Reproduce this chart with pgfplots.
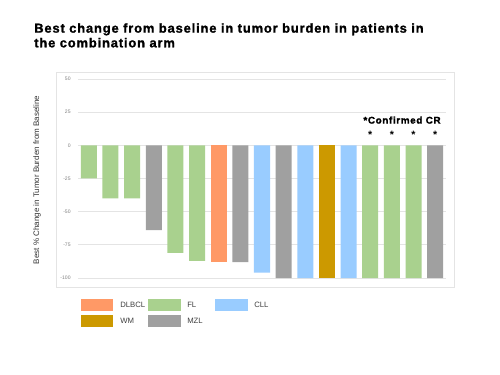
\documentclass[border=0pt]{standalone}
\usepackage{fontspec}
\setmainfont{Liberation Sans}
\newfontfamily\titlefont{Liberation Sans Bold}[FakeBold=1.3, LetterSpace=6.5]
\usepackage{pgfplots}
\pgfplotsset{compat=1.18}
\definecolor{cDLBCL}{HTML}{FF9966}
\definecolor{cFL}{HTML}{A9D18E}
\definecolor{cCLL}{HTML}{99CCFF}
\definecolor{cWM}{HTML}{CC9900}
\definecolor{cMZL}{HTML}{A0A0A0}
\definecolor{gridc}{HTML}{E4E4E4}
\begin{document}
\begin{tikzpicture}
\useasboundingbox[fill=white] (0,0) rectangle (375pt,281.25pt);
% title
\node[anchor=north west, inner sep=0pt, align=left, font=\fontsize{9.7}{11}\titlefont] at (25.5pt,264pt)
  {Best change from baseline in tumor burden in patients in\\the combination arm};
% frame
\draw[gridc, line width=0.6pt] (42pt,66pt) rectangle (340.5pt,227.25pt);
\begin{axis}[
  at={(58.5pt,72.75pt)}, anchor=south west,
  scale only axis, width=276pt, height=149.25pt,
  xmin=0.5, xmax=17.5, ymin=-100, ymax=50,
  ytick={-100,-75,-50,-25,0,25,50},
  xtick=\empty,
  ymajorgrids, grid style={gridc, line width=0.6pt},
  axis line style={draw=none},
  major tick length=0pt,
  /pgf/number format/assume math mode=true,
  yticklabel style={font=\fontsize{3.8}{4}\selectfont, text=gray, xshift=-2pt},
  ybar, bar width=0.74, bar shift=0pt,
  clip=false,
]
\addplot[fill=cFL, draw=none] coordinates {(1,-25) (2,-40) (3,-40) (5,-81) (6,-87) (14,-100) (15,-100) (16,-100)};
\addplot[fill=cMZL, draw=none] coordinates {(4,-64) (8,-88) (10,-100) (17,-100)};
\addplot[fill=cDLBCL, draw=none] coordinates {(7,-88)};
\addplot[fill=cCLL, draw=none] coordinates {(9,-96) (11,-100) (13,-100)};
\addplot[fill=cWM, draw=none] coordinates {(12,-100)};
\node[font=\fontsize{8}{8}\bfseries] at (axis cs:14,8) {*};
\node[font=\fontsize{8}{8}\bfseries] at (axis cs:15,8) {*};
\node[font=\fontsize{8}{8}\bfseries] at (axis cs:16,8) {*};
\node[font=\fontsize{8}{8}\bfseries] at (axis cs:17,8) {*};
\node[font=\fontsize{7.4}{7}\titlefont] at (axis cs:15.47,19) {*Confirmed CR};
\end{axis}
% y label
\node[rotate=90, font=\fontsize{6}{6}\selectfont, text=black!80] at (27.75pt,146.25pt)
  {Best \% Change in Tumor Burden from Baseline};
% legend
\fill[cDLBCL] (60.75pt,48pt) rectangle (84.75pt,57pt);
\fill[cFL] (111pt,48pt) rectangle (135.75pt,57pt);
\fill[cCLL] (161.25pt,48pt) rectangle (186pt,57pt);
\fill[cWM] (60.75pt,36pt) rectangle (84.75pt,45pt);
\fill[cMZL] (111pt,36pt) rectangle (135.75pt,45pt);
\begin{scope}[every node/.style={anchor=west, inner sep=0pt, font=\fontsize{5.8}{6}\selectfont, text=black!75}]
\node at (90pt,52.5pt) {DLBCL};
\node at (140.25pt,52.5pt) {FL};
\node at (190.5pt,52.5pt) {CLL};
\node at (90pt,40.5pt) {WM};
\node at (140.25pt,40.5pt) {MZL};
\end{scope}
\end{tikzpicture}
\end{document}
